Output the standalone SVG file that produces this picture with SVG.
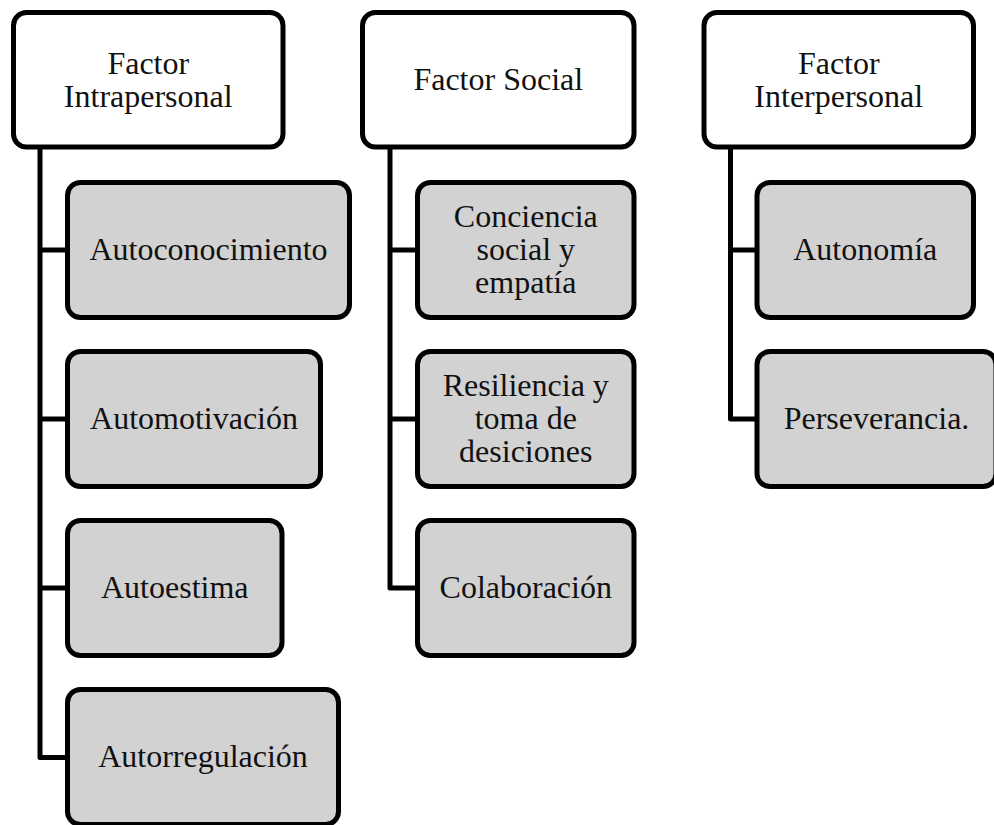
<svg xmlns="http://www.w3.org/2000/svg" width="994" height="825" viewBox="0 0 994 825">
  <style>
    .box { stroke: #000; stroke-width: 5; }
    .head { fill: #fff; }
    .item { fill: #d2d2d2; }
    .lbl { font-family: "Liberation Serif", "Times New Roman", serif; font-size: 32px; fill: #111; text-anchor: middle; }
    .wire { fill: none; stroke: #000; stroke-width: 5; stroke-linejoin: round; }
  </style>
  <rect width="994" height="825" fill="#fff"/>

  <!-- connectors: trunk under each header, branching to its items -->
  <g id="connectors">
    <path class="wire" d="M40 147 V757.5 H67.5 M40 250 H67.5 M40 419 H67.5 M40 588 H67.5"/>
    <path class="wire" d="M390 147 V588 H417.5 M390 250 H417.5 M390 419 H417.5"/>
    <path class="wire" d="M730.5 147 V419 H757 M730.5 250 H757"/>
  </g>

  <!-- headers -->
  <g id="factor-intrapersonal">
    <rect class="box head" x="13.5" y="12.5" width="269.5" height="134.5" rx="13"/>
    <text class="lbl" x="148.25" y="73.5">Factor</text>
    <text class="lbl" x="148.25" y="106.5">Intrapersonal</text>
  </g>
  <g id="factor-social">
    <rect class="box head" x="362.5" y="12.5" width="271.5" height="134.5" rx="13"/>
    <text class="lbl" x="498.25" y="89.5">Factor Social</text>
  </g>
  <g id="factor-interpersonal">
    <rect class="box head" x="704" y="12.5" width="269.5" height="134.5" rx="13"/>
    <text class="lbl" x="838.75" y="73.5">Factor</text>
    <text class="lbl" x="838.75" y="106.5">Interpersonal</text>
  </g>

  <!-- intrapersonal items -->
  <g id="autoconocimiento">
    <rect class="box item" x="67.5" y="182.5" width="282" height="135" rx="13"/>
    <text class="lbl" x="208.5" y="260">Autoconocimiento</text>
  </g>
  <g id="automotivacion">
    <rect class="box item" x="67.5" y="351.5" width="253" height="135" rx="13"/>
    <text class="lbl" x="194" y="429">Automotivación</text>
  </g>
  <g id="autoestima">
    <rect class="box item" x="67.5" y="520.5" width="214.5" height="135" rx="13"/>
    <text class="lbl" x="174.75" y="598">Autoestima</text>
  </g>
  <g id="autorregulacion">
    <rect class="box item" x="67.5" y="689.5" width="271" height="135" rx="13"/>
    <text class="lbl" x="203" y="767">Autorregulación</text>
  </g>

  <!-- social items -->
  <g id="conciencia-social">
    <rect class="box item" x="417.5" y="182.5" width="216.5" height="135" rx="13"/>
    <text class="lbl" x="525.75" y="227">Conciencia</text>
    <text class="lbl" x="525.75" y="260">social y</text>
    <text class="lbl" x="525.75" y="293">empatía</text>
  </g>
  <g id="resiliencia">
    <rect class="box item" x="417.5" y="351.5" width="216.5" height="135" rx="13"/>
    <text class="lbl" x="525.75" y="396">Resiliencia y</text>
    <text class="lbl" x="525.75" y="429">toma de</text>
    <text class="lbl" x="525.75" y="462">desiciones</text>
  </g>
  <g id="colaboracion">
    <rect class="box item" x="417.5" y="520.5" width="216.5" height="135" rx="13"/>
    <text class="lbl" x="525.75" y="598">Colaboración</text>
  </g>

  <!-- interpersonal items -->
  <g id="autonomia">
    <rect class="box item" x="757" y="182.5" width="216.5" height="135" rx="13"/>
    <text class="lbl" x="865.25" y="260">Autonomía</text>
  </g>
  <g id="perseverancia">
    <rect class="box item" x="757" y="351.5" width="239" height="135" rx="13"/>
    <text class="lbl" x="876.5" y="429">Perseverancia.</text>
  </g>
</svg>
